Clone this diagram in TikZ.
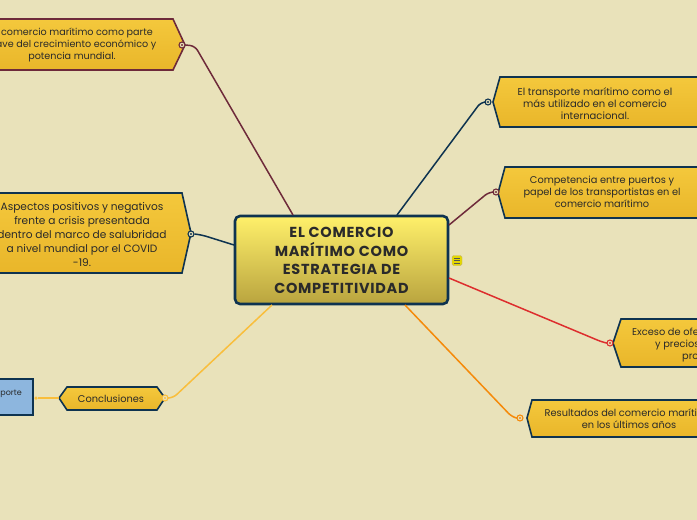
\documentclass[tikz,border=0pt]{standalone}
\usepackage{fontspec}
\setmainfont{Poppins}
\definecolor{bg}{HTML}{E9E2BA}
\definecolor{navy}{HTML}{0E3350}
\definecolor{maroon}{HTML}{6E2A3A}
\definecolor{redl}{HTML}{DD2E2E}
\definecolor{orangel}{HTML}{F58A0A}
\definecolor{yell}{HTML}{F9BE3C}
\definecolor{goldt}{HTML}{F4C83C}
\definecolor{goldb}{HTML}{E9B62A}
\definecolor{txt}{HTML}{2A2A2A}
\definecolor{bluebox}{HTML}{8DB6DE}
\definecolor{maintop}{HTML}{FFF06A}
\definecolor{mainbot}{HTML}{B9A43F}
\tikzset{
  hexbox/.style={line width=1.6pt, top color=goldt, bottom color=goldb, line join=miter},
  lbl/.style={align=center, text=txt, font=\fontsize{9.8}{12}\selectfont, inner sep=0pt},
  conn/.style={circle, minimum size=6pt, inner sep=0pt, line width=1.1pt, fill=bg, draw=#1},
  link/.style={line width=1.5pt, draw=#1, rounded corners=5pt},
}
\begin{document}
\begin{tikzpicture}[x=1pt,y=-1pt]
\useasboundingbox (0,0) rectangle (697,520);
\fill[bg] (0,0) rectangle (697,520);
\clip (0,0) rectangle (697,520);

% ---------- boxes ----------
% top-left
\draw[hexbox, draw=maroon] (-41,45) -- (-29,19) -- (173,19) -- (185,45) -- (173,70) -- (-29,70) -- cycle;
\node[lbl, font=\fontsize{9.6}{12}\selectfont] (t1) at (72,45) {El comercio marítimo como parte\\clave del crecimiento económico y\\potencia mundial.};

% aspects
\draw[hexbox, draw=navy] (-27,233) -- (-18,193) -- (182,193) -- (191,233) -- (182,273) -- (-18,273) -- cycle;
\node[lbl, font=\fontsize{10.6}{14}\selectfont] (t2) at (82,234) {Aspectos positivos y negativos\\frente a crisis presentada\\dentro del marco de salubridad\\a nivel mundial por el COVID\\-19.};

% right a
\draw[hexbox, draw=navy] (493,102) -- (500,77) -- (710,77) -- (710,127) -- (500,127) -- cycle;
\node[lbl, font=\fontsize{10}{12}\selectfont] (t3) at (595,104) {El transporte marítimo como el\\más utilizado en el comercio\\internacional.};

% right b
\draw[hexbox, draw=navy] (498,193) -- (505,167) -- (710,167) -- (710,218) -- (505,218) -- cycle;
\node[lbl] (t4) at (602,192) {Competencia entre puertos y\\papel de los transportistas en el\\comercio marítimo};

% right c
\draw[hexbox, draw=navy] (613,343) -- (621,319) -- (710,319) -- (710,367) -- (621,367) -- cycle;
\node[lbl, anchor=base west] (t5a) at (632,335) {Exceso de oferta};
\node[lbl, anchor=base west] (t5b) at (655,347) {y precios};
\node[lbl, anchor=base west] (t5c) at (682,359) {pro};

% right d
\draw[hexbox, draw=navy] (527,418) -- (532,400) -- (710,400) -- (710,437) -- (532,437) -- cycle;
\node[lbl] (t6) at (629,419) {Resultados del comercio marítimo\\en los últimos años};

% conclusiones
\draw[hexbox, draw=navy] (59,398) -- (67,387) -- (157,387) -- (165,398) -- (157,410) -- (67,410) -- cycle;
\node[lbl] (t7) at (111,398.5) {Conclusiones};

% blue box
\draw[line width=1.5pt, draw=navy, fill=bluebox] (-10,379) rectangle (33,415);
\node[lbl, font=\fontsize{8}{10}\selectfont, anchor=east] (t8) at (22,394) {Transporte};

% central
\node[draw=navy, line width=2.6pt, rounded corners=5pt, top color=maintop, bottom color=mainbot,
      minimum width=213pt, minimum height=88pt, inner sep=0pt] (main) at (341.5,260) {};
\node[align=center, text=txt, font=\fontsize{14.5}{18.7}\selectfont\bfseries\addfontfeatures{LetterSpace=5}, inner sep=0pt] (mt) at (341.5,260.5)
  {EL COMERCIO\\MARÍTIMO COMO\\ESTRATEGIA DE\\COMPETITIVIDAD};

% note icon
\node[draw=mainbot!80, fill=yellow!75!olive, rounded corners=1.5pt, minimum width=10pt, minimum height=10pt, inner sep=0pt] (icon) at (457,260.5) {};
\foreach \dy in {-2.5,0,2.5}{\draw[line width=0.8pt, txt!80] ([xshift=-3pt,yshift=\dy pt]icon.center) -- ([xshift=3pt,yshift=\dy pt]icon.center);}

% ---------- connector ends ----------
\node[conn=maroon] (c1) at (182,45) {};
\node[conn=navy] (c2) at (191,234) {};
\node[conn=navy] (c3) at (488,102) {};
\node[conn=maroon] (c4) at (496,192) {};
\node[conn=redl] (c5) at (610,343) {};
\node[conn=orangel] (c6) at (520,418) {};
\node[conn=yell] (c7) at (165,398) {};
\node[circle, fill=yell, minimum size=3.5pt, inner sep=0pt] (c8) at (36,398) {};

\coordinate (k1) at (195,46);  \coordinate (m1) at (293,215);
\coordinate (k2) at (202,235); \coordinate (m2) at (234,245);
\coordinate (k3) at (481,102); \coordinate (m3) at (397,215);
\coordinate (k4) at (489,192); \coordinate (m4) at (449,225);
\coordinate (k5) at (602,342); \coordinate (m5) at (449,278);
\coordinate (k6) at (512,417); \coordinate (m6) at (405,305);
\coordinate (k7) at (173,398); \coordinate (m7) at (272,305);
\coordinate (p7) at (59,398);

\draw[link=maroon] (c1.east) -- (k1) -- (m1);
\draw[link=navy] (c2.east) -- (k2) -- (m2);
\draw[link=navy] (c3.west) -- (k3) -- (m3);
\draw[link=maroon] (c4.west) -- (k4) -- (m4);
\draw[link=redl] (c5.west) -- (k5) -- (m5);
\draw[link=orangel] (c6.west) -- (k6) -- (m6);
\draw[link=yell] (c7.east) -- (k7) -- (m7);
\draw[link=yell, line width=1.2pt] (p7) -- (c8);

% dots inside connector circles
\foreach \n/\c in {c1/maroon,c2/navy,c3/navy,c4/maroon,c5/redl,c6/orangel,c7/yell}{\fill[\c] (\n.center) circle (1.1pt);}
\end{tikzpicture}
\end{document}
